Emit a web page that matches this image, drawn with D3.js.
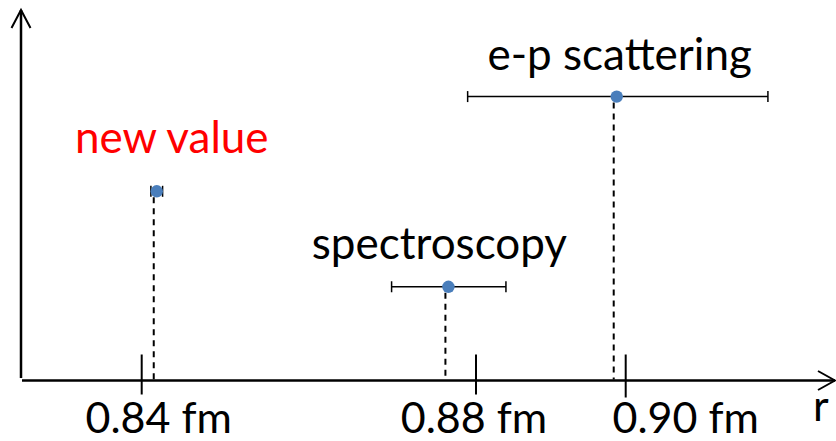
<!DOCTYPE html>
<html>
<head>
<meta charset="utf-8">
<script src="https://cdn.jsdelivr.net/npm/d3@7"></script>
<style>
  body { margin: 0; background: #fff; }
  text { font-family: Lato, "Open Sans", sans-serif; }
</style>
</head>
<body>
<div id="chart"></div>
<script>
// measurements of the proton radius (fm)
var names = ['new value', 'spectroscopy', 'e-p scattering'];
var values = [0.8418, 0.8767, 0.8988];
var lows = [0.8411, 0.8699, 0.8790];
var highs = [0.8425, 0.8840, 0.9190];
var levels = [0.51, 0.252, 0.766];   // vertical placement, no units

var tickValues = [0.84, 0.88, 0.90];
var tickLabels = ['0.84 fm', '0.88 fm', '0.90 fm'];

// label styling
var nameColors = ['#ff0000', '#000', '#000'];
var nameDx = [15, -9, 3];
var nameDy = [-38, -28, -27];
var tickLabelDx = [17, -2, 60];

var width = 836, height = 441;

var svg = d3.select('#chart')
  .append('svg')
  .attr('width', width)
  .attr('height', height);

// the drawing is schematic, so the axis is stretched piecewise
var x = d3.scaleLinear()
  .domain([0.84, 0.88, 0.90])
  .range([141.7, 476, 625.7]);

var y = d3.scaleLinear()
  .domain([0, 1])
  .range([380, 10]);

var x0 = 21, y0 = 380.5;

// y axis with open arrow
svg.append('line')
  .attr('x1', x0).attr('x2', x0)
  .attr('y1', y(0) - 2).attr('y2', y(1))
  .attr('stroke', '#000').attr('stroke-width', 2.5);
svg.append('path')
  .attr('d', 'M' + (x0 - 9.5) + ',' + (y(1) + 18) + 'L' + x0 + ',' + y(1) + 'L' + (x0 + 9.5) + ',' + (y(1) + 18))
  .attr('fill', 'none').attr('stroke', '#000').attr('stroke-width', 2);

// x axis with open arrow
var xEnd = 835;
svg.append('line')
  .attr('x1', x0 + 1).attr('x2', xEnd)
  .attr('y1', y0).attr('y2', y0)
  .attr('stroke', '#000').attr('stroke-width', 2.5);
svg.append('path')
  .attr('d', 'M' + (xEnd - 17) + ',' + (y0 - 9.5) + 'L' + xEnd + ',' + y0 + 'L' + (xEnd - 17) + ',' + (y0 + 9.5))
  .attr('fill', 'none').attr('stroke', '#000').attr('stroke-width', 2);

svg.append('text')
  .attr('x', 813).attr('y', 421)
  .attr('font-size', 43)
  .text('r');

// ticks
svg.selectAll('.tick')
  .data(tickValues)
  .enter().append('line')
  .attr('class', 'tick')
  .attr('x1', function(d) { return x(d); })
  .attr('x2', function(d) { return x(d); })
  .attr('y1', y0 - 26)
  .attr('y2', function(d, i) { return i === 2 ? y0 + 17 : y0 + 14; })
  .attr('stroke', '#000').attr('stroke-width', 2);

svg.selectAll('.tick-label')
  .data(tickValues)
  .enter().append('text')
  .attr('class', 'tick-label')
  .attr('x', function(d, i) { return x(d) + tickLabelDx[i]; })
  .attr('y', 433)
  .attr('text-anchor', 'middle')
  .attr('font-size', 43)
  .text(function(d, i) { return tickLabels[i]; });

// dashed drop lines
svg.selectAll('.drop')
  .data(values)
  .enter().append('line')
  .attr('class', 'drop')
  .attr('x1', function(d) { return x(d) - 3; })
  .attr('x2', function(d) { return x(d) - 3; })
  .attr('y1', function(d, i) { return y(levels[i]) + 6; })
  .attr('y2', y0 - 1)
  .attr('stroke', '#000').attr('stroke-width', 2)
  .attr('stroke-dasharray', '6,5');

// error bars
svg.selectAll('.err')
  .data(values)
  .enter().append('line')
  .attr('class', 'err')
  .attr('x1', function(d, i) { return x(lows[i]); })
  .attr('x2', function(d, i) { return x(highs[i]); })
  .attr('y1', function(d, i) { return y(levels[i]); })
  .attr('y2', function(d, i) { return y(levels[i]); })
  .attr('stroke', '#000').attr('stroke-width', 1.5);

[lows, highs].forEach(function(ends) {
  svg.selectAll(null)
    .data(values)
    .enter().append('line')
    .attr('x1', function(d, i) { return x(ends[i]); })
    .attr('x2', function(d, i) { return x(ends[i]); })
    .attr('y1', function(d, i) { return y(levels[i]) - 5.5; })
    .attr('y2', function(d, i) { return y(levels[i]) + 5.5; })
    .attr('stroke', '#000').attr('stroke-width', 1.5);
});

// points
svg.selectAll('.dot')
  .data(values)
  .enter().append('circle')
  .attr('class', 'dot')
  .attr('cx', function(d) { return x(d); })
  .attr('cy', function(d, i) { return y(levels[i]); })
  .attr('r', 6.2)
  .attr('fill', '#4a7ebb');

// point labels
svg.selectAll('.name')
  .data(values)
  .enter().append('text')
  .attr('class', 'name')
  .attr('x', function(d, i) { return x(d) + nameDx[i]; })
  .attr('y', function(d, i) { return y(levels[i]) + nameDy[i]; })
  .attr('text-anchor', 'middle')
  .attr('font-size', 44)
  .attr('fill', function(d, i) { return nameColors[i]; })
  .text(function(d, i) { return names[i]; });
</script>
</body>
</html>
